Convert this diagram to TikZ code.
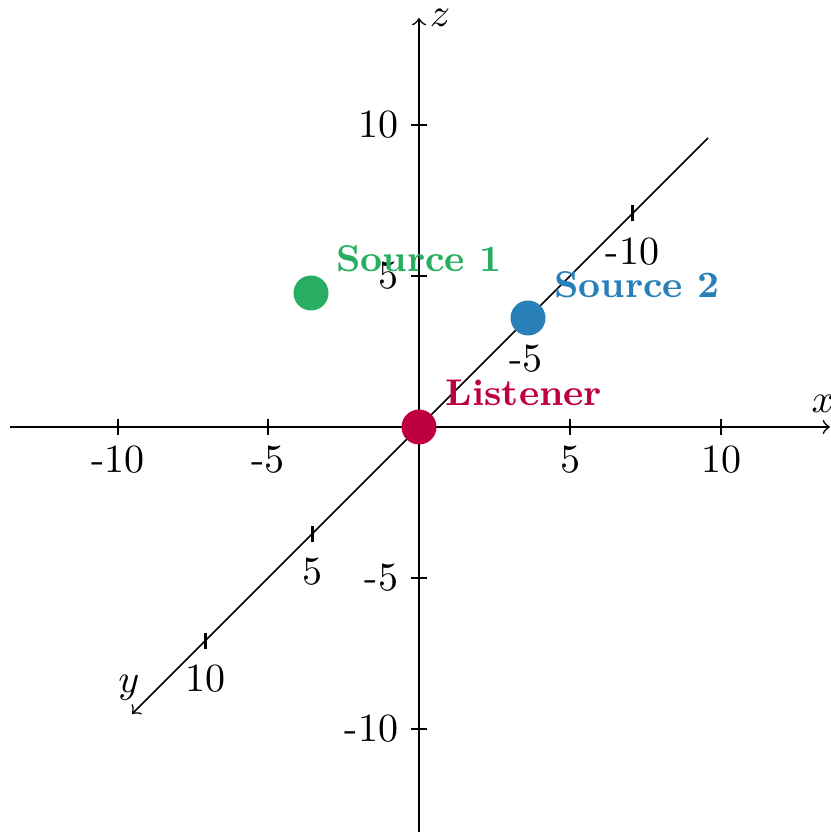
\documentclass[tikz,border=0pt]{standalone}
\definecolor{lisred}{RGB}{190,0,62}
\definecolor{srcgreen}{RGB}{39,174,96}
\definecolor{srcblue}{RGB}{41,128,185}
\begin{document}
\begin{tikzpicture}[x=0.25pt,y=-0.25pt,
  axis/.style={draw=black,line width=0.4pt,->},
  tickline/.style={draw=black,line width=0.7pt},
  ticklab/.style={inner sep=0pt,font=\normalsize},
  dot/.style={circle,inner sep=0pt,minimum size=8.75pt},
  srclabel/.style={font=\fontsize{9.3}{11}\selectfont\bfseries,inner sep=0pt}]
\useasboundingbox (0,0) rectangle (831,832);
% axes end points
\coordinate (xl) at (10,427);
\coordinate (xr) at (830,427);
\coordinate (zb) at (419,832);
\coordinate (zt) at (419,18);
\coordinate (yf) at (708,138);
\coordinate (yn) at (132,714);
\draw[axis] (xl) -- (xr);
\draw[axis] (zb) -- (zt);
\draw[axis] (yf) -- (yn);
\node[ticklab] (xlab) at (823,404) {$x$};
\node[ticklab] (zlab) at (440,18) {$z$};
\node[ticklab] (ylab) at (129,688) {$y$};
% x ticks
\foreach \v/\p in {-10/118,-5/268,5/570,10/721}{
  \draw[tickline] (\p,419) -- (\p,435);
  \node[ticklab] at (\p,460) {\v};
}
% z ticks
\foreach \v/\p in {10/125,5/276,-5/578,-10/729}{
  \draw[tickline] (411,\p) -- (427,\p);
  \node[ticklab,anchor=east] at (399,\p) {\v};
}
% y ticks
\foreach \v/\px/\py in {10/205.5/640.5,5/312.3/533.8,-5/525.8/320.3,-10/632.5/213.5}{
  \draw[tickline] (\px,\py-8) -- (\px,\py+8);
  \node[ticklab] at (\px,\py+38) {\v};
}
% points
\node[dot,fill=lisred] (lis) at (419,427) {};
\node[dot,fill=srcgreen] (s1) at (311,293) {};
\node[dot,fill=srcblue] (s2) at (528,318) {};
\node[srclabel,text=lisred] (lisl) at (524,393) {Listener};
\node[srclabel,text=srcgreen] (s1l) at (419,259) {Source 1};
\node[srclabel,text=srcblue] (s2l) at (637,285) {Source 2};
\end{tikzpicture}
\end{document}
